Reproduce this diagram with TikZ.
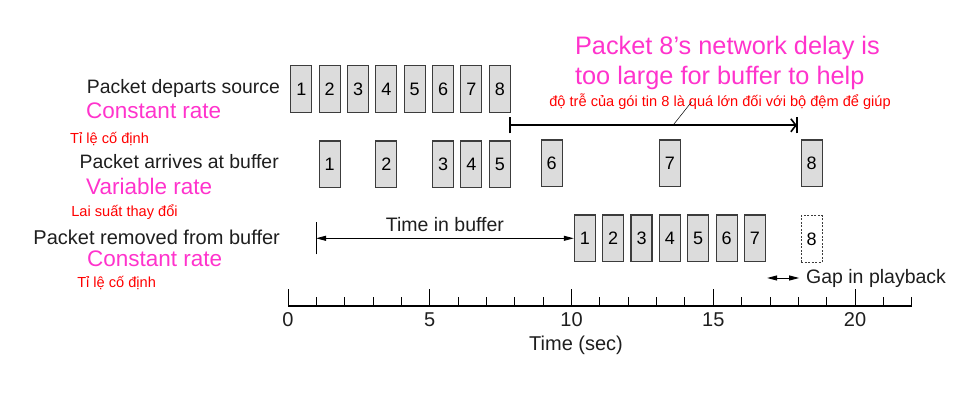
\documentclass[tikz,border=0pt]{standalone}
\usepackage{fontspec}
\setmainfont{Liberation Sans}
\usepackage{xcolor}
\usepackage{tikz}
\usetikzlibrary{arrows.meta,positioning,calc}
\definecolor{notepink}{RGB}{255,51,204}
\definecolor{notered}{RGB}{255,0,0}
\definecolor{boxgray}{RGB}{220,220,220}
\definecolor{edgegray}{RGB}{60,60,60}
\definecolor{labelgray}{RGB}{30,30,30}
\newcommand{\fsz}[1]{\fontsize{#1}{#1}\selectfont}

\begin{document}
\begin{tikzpicture}[
    x=28.35pt, y=1pt,
    node distance=6.25pt,
    pkt/.style={rectangle, draw=edgegray, line width=1.1pt, fill=boxgray, minimum width=21pt, minimum height=46.5pt, inner sep=0pt, font=\fsz{18}},
    lost/.style={pkt, fill=none, dash pattern=on 2pt off 1.5pt},
    rowlabel/.style={anchor=east, inner sep=0pt, text=labelgray, font=\fsz{19.4}},
    rate/.style={anchor=west, inner sep=0pt, text=notepink, font=\fsz{22.5}},
    viet/.style={anchor=west, inner sep=0pt, text=notered, font=\fsz{14.6}},
    arrow/.style={line width=0.9pt, {Triangle[length=10pt,width=5pt]}-{Triangle[length=10pt,width=5pt]}},
    delay/.style={line width=1.6pt, -{Straight Barb[length=5pt,width=13pt]}},
    bar/.style={line width=1.8pt},
    tick/.style={line width=0.9pt},
    axisline/.style={line width=1.3pt}
]
\useasboundingbox (-10.159,-105) rectangle (23.986,306);

% left labels
\node[rowlabel] (ldep) at (-0.28,218) {Packet departs source};
\node[rate] (rdep) at (-7.125,195) {Constant rate};
\node[viet] (vdep) at (-7.69,167) {Tỉ lệ cố định};
\node[rowlabel] (larr) at (-0.32,144) {Packet arrives at buffer};
\node[rate] (rarr) at (-7.125,120) {Variable rate};
\node[viet] (varr) at (-7.65,94) {Lai suất thay đổi};
\node[rowlabel, font=\fsz{20}] (lrem) at (-0.28,69) {Packet removed from buffer};
\node[rate] (rrem) at (-7.09,47) {Constant rate};
\node[viet] (vrem) at (-7.44,23) {Tỉ lệ cố định};

% packets leaving the source
\node[pkt] (s1) at (0.47,217) {1};
\node[pkt, right=of s1] (s2) {2};
\node[pkt, right=of s2] (s3) {3};
\node[pkt, right=of s3] (s4) {4};
\node[pkt, right=of s4] (s5) {5};
\node[pkt, right=of s5] (s6) {6};
\node[pkt, right=of s6] (s7) {7};
\node[pkt, right=of s7] (s8) {8};

% packets reaching the buffer
\node[pkt, below=27.7pt of s2] (a1) {1};
\node[pkt, below=27.7pt of s4] (a2) {2};
\node[pkt, below=27.7pt of s6] (a3) {3};
\node[pkt, below=27.7pt of s7] (a4) {4};
\node[pkt, below=27.7pt of s8] (a5) {5};
\node[pkt] (a6) at (9.3,142.7) {6};
\node[pkt] (a7) at (13.47,142.7) {7};
\node[pkt] (a8) at (18.47,142.7) {8};

% packets played out
\node[pkt] (p1) at (10.47,67.7) {1};
\node[pkt, right=of p1] (p2) {2};
\node[pkt, right=of p2] (p3) {3};
\node[pkt, right=of p3] (p4) {4};
\node[pkt, right=of p4] (p5) {5};
\node[pkt, right=of p5] (p6) {6};
\node[pkt, right=of p6] (p7) {7};
\node[lost, below=28.3pt of a8] (p8) {8};

% network delay of packet 8
\node[anchor=west, align=left, inner sep=0pt, text=notepink, font=\fontsize{25.3}{30}\selectfont] (title) at (10.12,243) {Packet 8’s network delay is\\too large for buffer to help};
\node[inner sep=0pt, text=notered, font=\fsz{14.6}] (vtitle) at (15.24,204) {độ trễ của gói tin 8 là quá lớn đối với bộ đệm để giúp};
\coordinate (dl) at (7.84,180.7);
\coordinate (dr) at (17.95,180.7);
\coordinate (lead) at (13.58,180.7);
\coordinate (leadend) at (14.24,204.3);
\draw[delay] (dl) -- (dr);
\draw[bar] ($(dl)+(0,-8)$) -- ($(dl)+(0,8)$);
\draw[bar] ($(dr)+(0,-8)$) -- ($(dr)+(0,8)$);
\draw[line width=0.5pt] (lead) -- (leadend);

% time in buffer
\coordinate (tb) at (0.99,67.7);
\draw[line width=1pt] ($(tb)+(0,-16)$) -- ($(tb)+(0,16)$);
\draw[arrow] (tb) -- node[above=6pt, inner sep=0pt, text=labelgray, font=\fsz{19.5}] (tbuf) {Time in buffer} (p1.west);

% gap in playback
\coordinate (g1) at (16.9,28);
\coordinate (g2) at (18.03,28);
\draw[arrow] (g1) -- (g2);
\node[anchor=west, inner sep=0pt, text=labelgray, font=\fsz{19.5}] (gap) at (18.27,28) {Gap in playback};

% time axis
\draw[axisline] (0,0) coordinate (o) -- (22,0) coordinate (tend);
\foreach \t in {0,...,22}
    \draw[tick] (\t,0) -- (\t,9);
\foreach \t in {0,5,...,20} {
    \draw[tick] (\t,0) -- (\t,17);
    \node[text=labelgray, font=\fsz{20}] (lab\t) at (\t,-14) {\t};
}
\node[text=labelgray, font=\fsz{20}] (tlabel) at (10.16,-39) {Time (sec)};

\end{tikzpicture}
\end{document}
